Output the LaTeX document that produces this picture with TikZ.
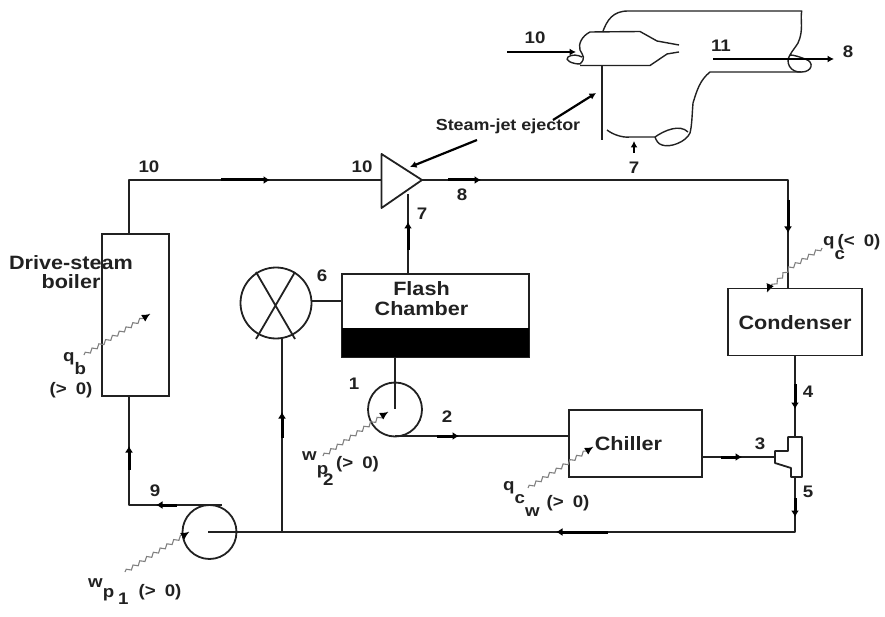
\documentclass[tikz,border=0pt]{standalone}
\usepackage{fontspec}
\setmainfont[FakeStretch=1.12]{Liberation Sans}
\usetikzlibrary{arrows.meta,decorations.pathmorphing,calc}
\newcommand{\fsz}[1]{\fontsize{#1}{#1}\selectfont}
\newcommand{\dn}[2]{\raisebox{-#1pt}{#2}}
\newcommand{\gap}{\hspace{9pt}}
\definecolor{ink}{gray}{0.13}
\tikzset{
  pipe/.style={draw=ink,line width=1.8pt,line join=round},
  thin pipe/.style={draw=ink,line width=1.4pt,line join=round},
  boxn/.style={draw=ink,line width=1.8pt,rectangle,inner sep=0pt},
  flow/.style={draw=black,line width=3pt,-{Latex[length=6.5pt,width=8pt]},shorten >=-1pt},
  pointer/.style={draw=black,line width=2.2pt,-{Latex[length=6.5pt,width=7pt]}},
  heat/.style={draw=gray,line width=1.1pt,decorate,decoration={snake,amplitude=1.7pt,segment length=8pt,post length=5pt}},
  tip/.style={draw=black,line width=1.2pt,-{Latex[length=8pt,width=8pt]}},
  lab/.style={text=ink,font=\fsz{16.7}\bfseries,inner sep=0pt},
  biglab/.style={text=ink,font=\fsz{19.3}\bfseries,inner sep=0pt,align=center},
}
\begin{document}
\begin{tikzpicture}[x=1pt,y=-1pt]
\useasboundingbox (0,0) rectangle (885,617);
% equipment
\node[boxn,minimum width=67pt,minimum height=162pt] (boiler) at (135.5,315) {};
\node[boxn,minimum width=187pt,minimum height=83pt] (flash) at (435.5,315.5) {};
\fill[black] (342,328) rectangle (529,357);
\node[boxn,minimum width=134pt,minimum height=67pt] (cond) at (795,322) {};
\node[boxn,minimum width=133pt,minimum height=67pt] (chill) at (635.5,443.5) {};
\node[boxn,circle,minimum size=71pt] (valve) at (276,303) {};
\node[boxn,circle,minimum size=54pt] (pumpa) at (209.5,532) {};
\node[boxn,circle,minimum size=54pt] (pumpb) at (395,409.5) {};
\coordinate (ta) at (381.5,154); \coordinate (tb) at (381.5,208); \coordinate (tc) at (422,180);
\draw[pipe] (ta) -- (tc) -- (tb) -- cycle;
\coordinate (va) at (256,272); \coordinate (vb) at (295,339);
\coordinate (vc) at (295,272); \coordinate (vd) at (256,339);
\draw[pipe] (va) -- (vb) (vc) -- (vd);
% splitter
\coordinate (sa) at (788,437); \coordinate (sb) at (802,437); \coordinate (sc) at (802,477);
\coordinate (sd) at (791,477); \coordinate (se) at (791,468); \coordinate (sf) at (775,463);
\coordinate (sg) at (775,451); \coordinate (sh) at (788,451);
\draw[pipe] (sa) -- (sb) -- (sc) -- (sd) -- (se) -- (sf) -- (sg) -- (sh) -- cycle;
% connectors
\coordinate (b1) at (129,234); \coordinate (b2) at (129,180); \coordinate (b3) at (381.5,180);
\draw[pipe] (b1) -- (b2) -- (b3);
\coordinate (c1) at (788,180); \coordinate (c2) at (788,288);
\draw[pipe] (tc) -- (c1) -- (c2);
\coordinate (d1) at (795,356); \coordinate (d2) at (795,437);
\draw[pipe] (d1) -- (d2);
\coordinate (e1) at (702,457);
\draw[pipe] (e1) -- (sf |- e1);
\coordinate (f1) at (795,477); \coordinate (f2) at (795,532); \coordinate (f3) at (208,532);
\draw[pipe] (f1) -- (f2) -- (f3);
\coordinate (g1) at (222,505); \coordinate (g2) at (129,505); \coordinate (g3) at (129,396);
\draw[pipe] (g1) -- (g2) -- (g3);
\coordinate (h1) at (282,532); \coordinate (h2) at (282,338);
\draw[pipe] (h1) -- (h2);
\coordinate (i1) at (311.5,301); \coordinate (i2) at (342,301);
\draw[pipe] (i1) -- (i2);
\coordinate (j1) at (408,274); \coordinate (j2) at (408,194);
\draw[pipe] (j1) -- (j2);
\coordinate (k1) at (395,357); \coordinate (k2) at (395,409);
\draw[pipe] (k1) -- (k2);
\coordinate (l1) at (395,436); \coordinate (l2) at (568.5,436);
\draw[pipe] (l1) -- (l2);
% flow marks
\foreach \ax/\ay/\bx/\by in {221/180/269/180, 448/180/480/180, 788/200/788/232, 795/384/795/408,
  795/498/795/516, 608/532/557/532, 437/436/458/436, 721/457/741/457, 408/250/408/223,
  177/505/157/505, 129/470/129/447, 282/438/282/413}
  {\coordinate (fa) at (\ax,\ay); \coordinate (fb) at (\bx,\by); \draw[flow] (fa) -- (fb);}
% ejector detail
\coordinate (n1) at (602.7,32); \coordinate (n2) at (628,11); \coordinate (n3) at (801.7,11);
\coordinate (n4) at (790,55); \coordinate (n5) at (801.7,72); \coordinate (n6) at (710,72);
\coordinate (n7) at (690,133); \coordinate (n8) at (655,137); \coordinate (n9) at (630,137);
\coordinate (n10) at (607,130);
\draw[thin pipe] (n1) .. controls (607,20) and (613,11) .. (n2) -- (n3)
  .. controls (800,20) and (804,30) .. (798,43) .. controls (795,48) and (792,51) .. (n4)
  .. controls (785,62) and (790,73) .. (n5) .. controls (812,72) and (815,62) .. (805,59)
  .. controls (800,57) and (794,55) .. (n4);
\draw[thin pipe] (n5) -- (n6) .. controls (700,80) and (697,90) .. (693,103)
  .. controls (692,115) and (692,125) .. (n7) .. controls (686,142) and (670,148) .. (662,145)
  .. controls (658,144) and (656,140) .. (n8) .. controls (665,130) and (680,124) .. (688,132)
  (n8) -- (n9) .. controls (622,138) and (612,134) .. (n10);
\coordinate (m1) at (601.7,66); \coordinate (m2) at (601.7,140);
\draw[pipe] (m1) -- (m2);
\draw[thin pipe] (580,65.5) -- (650,65.5) -- (667,54) -- (679,52);
\draw[thin pipe] (679,45) -- (657,41) -- (640,31.5) -- (590,32) .. controls (582,36) and (578,44) .. (580,50)
  .. controls (583,56) and (586,58) .. (580,64) .. controls (572,64) and (564,60) .. (568,57) .. controls (572,54) and (578,55) .. (582,57);
% pointers
\coordinate (p1) at (507,52); \coordinate (p2) at (576,52);
\draw[pointer] (p1) -- (p2);
\coordinate (p3) at (713,59); \coordinate (p4) at (834,59);
\draw[pointer] (p3) -- (p4);
\coordinate (p5) at (553,120); \coordinate (p6) at (596,93);
\draw[pointer] (p5) -- (p6);
\coordinate (p7) at (634,153); \coordinate (p8) at (634,141);
\draw[pointer,line width=1.7pt] (p7) -- (p8);
\coordinate (p9) at (477,140); \coordinate (p10) at (410,167);
\draw[pointer] (p9) -- (p10);
% heat and work inputs
\coordinate (q1) at (84,355); \coordinate (q2) at (150,314);
\draw[heat] (q1) -- (q2); \draw[tip] ($(q2)+(-4,2.5)$) -- (q2);
\coordinate (q3) at (125,572); \coordinate (q4) at (189,532);
\draw[heat] (q3) -- (q4); \draw[tip] ($(q4)+(-4,2.5)$) -- (q4);
\coordinate (q5) at (323,456); \coordinate (q6) at (388,412);
\draw[heat] (q5) -- (q6); \draw[tip] ($(q6)+(-4,2.5)$) -- (q6);
\coordinate (q7) at (528,488); \coordinate (q8) at (593,447);
\draw[heat] (q7) -- (q8); \draw[tip] ($(q8)+(-4,2.5)$) -- (q8);
\coordinate (q9) at (822,248); \coordinate (q10) at (790,268); \coordinate (q11) at (767,292);
\draw[heat] (q9) -- (q10) -- (q11); \draw[tip] (770,285) -- (q11);
% equipment text
\node[biglab] (tboil) at (71,272) {Drive-steam\\boiler};
\node[biglab] (tflash) at (421.5,298.5) {Flash\\Chamber};
\node[biglab] (tcond) at (795,323) {Condenser};
\node[biglab] (tchill) at (628.5,444) {Chiller};
\node[lab,font=\fsz{16}\bfseries] (tejec) at (508,126) {Steam-jet ejector};
% state numbers
\node[lab] (n10a) at (149,167) {10};
\node[lab] (n10b) at (362,167) {10};
\node[lab] (n8a) at (462,195) {8};
\node[lab] (n7a) at (422,214) {7};
\node[lab] (n7b) at (634,168) {7};
\node[lab] (n6a) at (322,276) {6};
\node[lab] (n1a) at (354,384) {1};
\node[lab] (n2a) at (447,417) {2};
\node[lab] (n3a) at (760,444) {3};
\node[lab] (n4a) at (808,392) {4};
\node[lab] (n5a) at (808,492) {5};
\node[lab] (n9a) at (155,491) {9};
\node[lab] (n10c) at (535,38) {10};
\node[lab] (n11a) at (721,46) {11};
\node[lab] (n8b) at (848,52) {8};
% quantity labels
\node[lab,anchor=base west] (lqb) at (63,361) {q\dn{13}{b}};
\node[lab] (lqbv) at (71,390) {(>\gap 0)};
\node[lab,anchor=base west] (lwa) at (88,587) {w\dn{10}{p}\hspace{4pt}\dn{17}{1}};
\node[lab] (lwav) at (160,592) {(>\gap 0)};
\node[lab,anchor=base west] (lwb) at (302,460) {w\dn{14}{p}\hspace{-5pt}\dn{25}{2}};
\node[lab] (lwbv) at (357.5,464) {(>\gap 0)};
\node[lab,anchor=base west] (lqc) at (503,490) {q\dn{13}{c}\dn{26}{w}};
\node[lab] (lqcv) at (568,503) {(>\gap 0)};
\node[lab,anchor=base west] (lqd) at (823,246) {q\dn{14}{c}};
\node[lab] (lqdv) at (859,242) {(<\gap 0)};
\end{tikzpicture}
\end{document}
